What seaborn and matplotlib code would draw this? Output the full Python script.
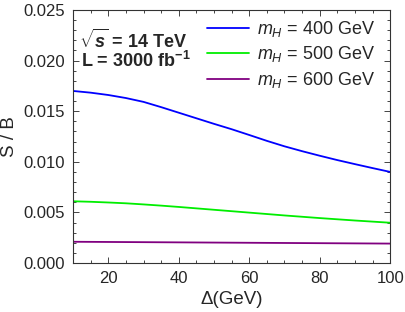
import numpy as np
import pandas as pd
import matplotlib
matplotlib.use("Agg")
import matplotlib.pyplot as plt
import seaborn as sns
from matplotlib.ticker import MultipleLocator, FormatStrFormatter

# values
delta = [10, 15, 20, 25, 30, 35, 40, 45, 50, 55, 60, 65, 70, 75, 80, 85, 90, 95, 100]
sb_400 = [0.01700, 0.01683, 0.01660, 0.01630, 0.01592, 0.01540, 0.01485, 0.01430, 0.01375, 0.01322,
          0.01265, 0.01207, 0.01153, 0.01105, 0.01060, 0.01017, 0.00977, 0.00938, 0.00900]
sb_500 = [0.00610, 0.00605, 0.00598, 0.00590, 0.00579, 0.00567, 0.00554, 0.00540, 0.00526, 0.00512,
          0.00498, 0.00484, 0.00470, 0.00457, 0.00444, 0.00432, 0.00420, 0.00409, 0.00398]
sb_600 = [0.00210, 0.00209, 0.00208, 0.00207, 0.00206, 0.00205, 0.00204, 0.00203, 0.00202, 0.00201,
          0.00200, 0.00199, 0.00198, 0.00197, 0.00196, 0.00195, 0.00194, 0.00193, 0.00192]
labels = ["$m_H$ = 400 GeV", "$m_H$ = 500 GeV", "$m_H$ = 600 GeV"]
colors = ["#0000ff", "#00ee00", "#800080"]

n = len(delta)
df = pd.DataFrame({
    "delta": delta * 3,
    "sb": sb_400 + sb_500 + sb_600,
    "mass": [labels[0]] * n + [labels[1]] * n + [labels[2]] * n,
})

sns.set_style("ticks")
plt.rcParams["font.family"] = ["Liberation Sans", "DejaVu Sans"]
plt.rcParams["mathtext.fontset"] = "custom"
plt.rcParams["mathtext.rm"] = "Liberation Sans"
plt.rcParams["mathtext.it"] = "Liberation Sans:italic"
plt.rcParams["mathtext.bf"] = "Liberation Sans:bold"
plt.rcParams["mathtext.bfit"] = "Liberation Sans:bold:italic"

fig = plt.figure(figsize=(4.06, 3.12), dpi=100)
ax = fig.add_axes([0.180, 0.157, 0.781, 0.811])

sns.lineplot(data=df, x="delta", y="sb", hue="mass", palette=colors,
             linewidth=1.3, ax=ax)

ax.set_xlim(10, 100)
ax.set_ylim(0, 0.025)
ax.xaxis.set_major_locator(MultipleLocator(20))
ax.xaxis.set_minor_locator(MultipleLocator(5))
ax.yaxis.set_major_locator(MultipleLocator(0.005))
ax.yaxis.set_minor_locator(MultipleLocator(0.001))
ax.yaxis.set_major_formatter(FormatStrFormatter("%.3f"))
ax.tick_params(which="both", direction="in", top=True, right=True,
               labelsize=12, width=0.6)
ax.tick_params(axis="y", which="major", pad=6)
ax.tick_params(axis="x", which="major", pad=6)
ax.tick_params(which="major", length=4)
ax.tick_params(which="minor", length=2)
for s in ax.spines.values():
    s.set_linewidth(0.8)
    s.set_color("#333333")

ax.set_xlabel("Δ(GeV)", fontsize=13.5, labelpad=3)
ax.set_ylabel("S / B", fontsize=13.5, labelpad=4)

ax.legend(loc="upper right", bbox_to_anchor=(0.98, 1.0), frameon=False,
          fontsize=13, handlelength=2.3, handletextpad=0.45,
          labelspacing=0.3, borderaxespad=0.1)

ax.text(0.02, 0.88, r"$\sqrt{\mathbfit{s}}$ = 14 TeV", transform=ax.transAxes,
        fontsize=13, fontweight="bold", va="center")
ax.text(0.025, 0.80, r"L = 3000 fb$^{\mathbf{-1}}$", transform=ax.transAxes,
        fontsize=13, fontweight="bold", va="center")

fig.savefig("out.png", dpi=100)
